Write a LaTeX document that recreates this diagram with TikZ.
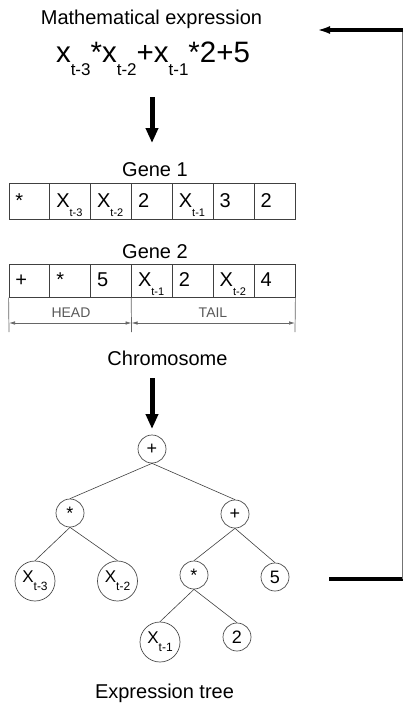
\documentclass[tikz,border=0pt]{standalone}
\usepackage{fontspec}
\setmainfont{Liberation Sans}
\usetikzlibrary{arrows.meta}

\newcommand{\lag}[2]{\raisebox{-0.45em}{\fontsize{#1}{#1}\selectfont t-#2}}

\begin{document}
\begin{tikzpicture}[x=1pt,y=-1pt,
        title/.style={anchor=base, font=\fontsize{20}{24}\selectfont},
        cell/.style={draw=black!75, line width=0.8pt, minimum width=40.86pt, minimum height=#1,
            text width=28pt, inner xsep=6.43pt, align=left, text height=15pt, text depth=3pt,
            font=\fontsize{20}{24}\selectfont},
        op/.style={circle, draw=black!70, line width=0.7pt, minimum size=28pt, inner sep=0pt,
            font=\fontsize{18}{21}\selectfont},
        leaf/.style={op, minimum size=40pt, font=\fontsize{17}{20}\selectfont},
        edge/.style={draw=black!75, line width=0.6pt},
        dimline/.style={draw=black!60, line width=0.7pt},
        bigarrow/.style={line width=5pt, -{Triangle[length=15pt,width=12pt]}},
        loopline/.style={line width=4pt}]
    \useasboundingbox (0,0) rectangle (403,704);

    % expression
    \node[title] (exprtitle) at (151.5,24) {Mathematical expression};
    \node[anchor=base, font=\fontsize{29.5}{33}\selectfont] (expr) at (153,62)
        {x\lag{17}{3}*x\lag{17}{2}+x\lag{17}{1}*2+5};
    \coordinate (down1s) at (152,97);
    \coordinate (down1e) at (152,143);
    \draw[bigarrow] (down1s) -- (down1e);

    % gene 1
    \node[title] (gene1) at (155,176) {Gene 1};
    \node[cell=36pt] (g1a) at (29.43,201) {*};
    \node[cell=36pt] (g1b) at (70.29,201) {X\lag{11}{3}};
    \node[cell=36pt] (g1c) at (111.14,201) {X\lag{11}{2}};
    \node[cell=36pt] (g1d) at (152.00,201) {2};
    \node[cell=36pt] (g1e) at (192.86,201) {X\lag{11}{1}};
    \node[cell=36pt] (g1f) at (233.71,201) {3};
    \node[cell=36pt] (g1g) at (274.57,201) {2};

    % gene 2
    \node[title] (gene2) at (155,258) {Gene 2};
    \node[cell=33pt] (g2a) at (29.43,280.7) {+};
    \node[cell=33pt] (g2b) at (70.29,280.7) {*};
    \node[cell=33pt] (g2c) at (111.14,280.7) {5};
    \node[cell=33pt] (g2d) at (152.00,280.7) {X\lag{11}{1}};
    \node[cell=33pt] (g2e) at (192.86,280.7) {2};
    \node[cell=33pt] (g2f) at (233.71,280.7) {X\lag{11}{2}};
    \node[cell=33pt] (g2g) at (274.57,280.7) {4};

    % head / tail
    \coordinate (tickL) at (9,332);
    \coordinate (tickM) at (131.57,332);
    \coordinate (tickR) at (295,332);
    \draw[dimline] (g2a.south west) -- (tickL);
    \draw[dimline] (g2d.south west) -- (tickM);
    \draw[dimline] (g2g.south east) -- (tickR);
    \coordinate (headL) at (9,323);
    \coordinate (headR) at (131.57,323);
    \coordinate (tailR) at (295,323);
    \draw[dimline, {Latex[length=6pt,width=3.5pt]}-{Latex[length=6pt,width=3.5pt]}] (headL) -- (headR);
    \draw[dimline, {Latex[length=6pt,width=3.5pt]}-{Latex[length=6pt,width=3.5pt]}] (headR) -- (tailR);
    \node[anchor=base, text=black!65, font=\fontsize{14}{16}\selectfont] (head) at (71,317) {HEAD};
    \node[anchor=base, text=black!65, font=\fontsize{14}{16}\selectfont] (tail) at (213,317) {TAIL};

    \node[title] (chromo) at (167.5,365) {Chromosome};
    \coordinate (down2s) at (152,378);
    \coordinate (down2e) at (152,429);
    \draw[bigarrow] (down2s) -- (down2e);

    % expression tree
    \node[op] (root) at (152,449) {+};
    \node[op] (mulL) at (70,513) {*};
    \node[op] (addR) at (235,514) {+};
    \node[leaf] (xa) at (35,581) {X\lag{12}{3}};
    \node[leaf] (xb) at (117.5,581) {X\lag{12}{2}};
    \node[op] (mulR) at (194,575) {*};
    \node[op] (five) at (275,577) {5};
    \node[leaf] (xc) at (160,642) {X\lag{12}{1}};
    \node[op] (two) at (237,637) {2};
    \draw[edge] (root.south) -- (mulL.north);
    \draw[edge] (root.south) -- (addR.north);
    \draw[edge] (mulL.south) -- (xa.north);
    \draw[edge] (mulL.south) -- (xb.north);
    \draw[edge] (addR.south) -- (mulR.north);
    \draw[edge] (addR.south) -- (five.north);
    \draw[edge] (mulR.south) -- (xc.north);
    \draw[edge] (mulR.south) -- (two.north);
    \node[title] (treetitle) at (164.5,698) {Expression tree};

    % feedback loop
    \coordinate (loopOut) at (329,579);
    \coordinate (loopBot) at (402,579);
    \coordinate (loopTop) at (402,30);
    \coordinate (loopIn) at (317,30);
    \draw[loopline] (loopOut) -- (403,579);
    \draw[black!55, line width=0.8pt] (loopBot) -- (loopTop);
    \draw[loopline, -{Latex[length=13pt,width=8pt]}] (403,30) -- (loopIn);
\end{tikzpicture}
\end{document}
